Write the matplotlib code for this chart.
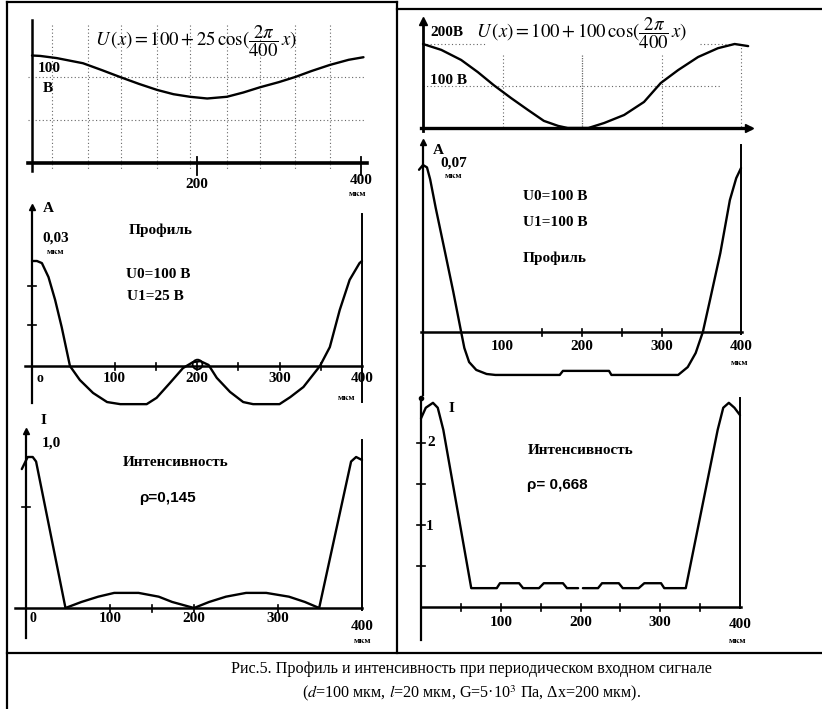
import numpy as np
import matplotlib
matplotlib.use("Agg")
import matplotlib.pyplot as plt
from matplotlib import transforms
from matplotlib.lines import Line2D

plt.rcParams['font.family'] = ['Liberation Serif', 'DejaVu Serif']
plt.rcParams['mathtext.fontset'] = 'stix'

# ---------------- data ----------------
# Left top: U(x) = 100 + 25 cos(...)
LT_x = [0, 10, 30, 62, 85, 107, 130, 152, 172, 192, 213, 237, 257, 277, 300, 320, 340, 362, 385, 403]
LT_U = [125, 124.5, 122, 116, 108, 100, 92, 85, 80, 77, 75, 77, 82, 88, 94, 100, 107, 114, 120, 123]
LT_grid_x = [24, 68, 108, 152, 192, 237, 277, 320, 362]
LT_grid_U = [100, 50]

# Left middle: profile A (мкм), U1 = 25 B
LM_x = [0, 6, 12, 20, 28, 36, 46, 58, 74, 91, 107, 139, 151, 167, 183, 195, 204, 214, 224, 240,
        256, 268, 300, 313, 329, 349, 361, 373, 385, 397, 400]
LM_A = [0.030, 0.030, 0.0294, 0.0254, 0.0189, 0.0111, 0.0, -0.004, -0.0077, -0.0103, -0.0109,
        -0.0109, -0.0091, -0.0049, -0.0006, 0.0011, 0.0014, 0.0003, -0.0034, -0.0074, -0.0103,
        -0.0109, -0.0109, -0.0089, -0.006, 0.0, 0.0054, 0.016, 0.0246, 0.0294, 0.030]

# Left bottom: intensity, rho = 0.145
LB_x = [-5, 2, 8, 12, 47, 66, 86, 105, 134, 158, 174, 200, 218, 238, 262, 286, 313, 332, 349, 387, 393, 400]
LB_I = [0.92, 1.0, 1.0, 0.97, 0.0, 0.04, 0.075, 0.1, 0.1, 0.075, 0.04, 0.0, 0.04, 0.075, 0.1, 0.1,
        0.075, 0.04, 0.0, 0.97, 1.0, 0.98]

# Right top: U(x) = 100 + 100 cos(...)
RT_x = [0, 23, 48, 69, 89, 111, 132, 152, 170, 182, 208, 228, 253, 278, 299, 321, 346, 371, 392, 409]
RT_U = [200, 186, 162, 133, 102, 71, 43, 17, 5, 0, 0, 12, 31, 62, 107, 138, 169, 190, 200, 195]

# Right middle: profile A (мкм), U1 = 100 B
RM_x = [-5, 0, 5, 9, 16, 28, 38, 48, 52, 58, 67, 80, 91, 172, 176, 234, 237, 321, 333, 343, 352,
        361, 374, 386, 394, 400]
RM_A = [0.068, 0.070, 0.069, 0.064, 0.052, 0.033, 0.017, 0.0, -0.0067, -0.0126, -0.0159, -0.0176,
        -0.018, -0.018, -0.0163, -0.0163, -0.018, -0.018, -0.0147, -0.0088, 0.0, 0.0134, 0.0331,
        0.0553, 0.0645, 0.0687]

# Right bottom: intensity, rho = 0.668
RB_x = [0, 6, 15, 21, 28, 63, 95, 99, 123, 128, 148, 154, 178, 183, 197, 200, 203, 222, 227, 248,
        253, 273, 280, 301, 305, 332, 372, 379, 386, 393, 400]
RB_I = [2.30, 2.43, 2.49, 2.43, 2.16, 0.23, 0.23, 0.29, 0.29, 0.23, 0.23, 0.29, 0.29, 0.23, 0.23,
        np.nan, 0.23, 0.23, 0.29, 0.29, 0.23, 0.23, 0.29, 0.29, 0.23, 0.23, 2.16, 2.43, 2.49, 2.43, 2.34]

x_ticklabels = [100, 200, 300, 400]

# ---------------- figure ----------------
W, H = 822, 709
fig = plt.figure(figsize=(W / 100, H / 100), dpi=100)
pxT = transforms.Affine2D().scale(1 / W, -1 / H).translate(0, 1) + fig.transFigure


def panel(box, xmap, ymap):
    l, t, r, b = box
    ax = fig.add_axes([l / W, 1 - b / H, (r - l) / W, (b - t) / H])
    px0, d0, px1, d1 = xmap
    sx = (d1 - d0) / (px1 - px0)
    ax.set_xlim(d0 + (l - px0) * sx, d0 + (r - px0) * sx)
    py0, e0, py1, e1 = ymap
    sy = (e1 - e0) / (py1 - py0)
    ax.set_ylim(e0 + (b - py0) * sy, e0 + (t - py0) * sy)
    ax.axis('off')
    return ax


def ftext(x, y, s, size=11, weight='bold', ha='center', va='center', **kw):
    fig.text(x, y, s, transform=pxT, fontsize=size, fontweight=weight, ha=ha, va=va, **kw)


def xlabel(ax, v, ypx, s=None, size=10.5):
    tr = transforms.blended_transform_factory(ax.transData, pxT)
    ax.text(v, ypx, str(v) if s is None else s, transform=tr, fontsize=size, fontweight='bold',
            ha='center', va='center', clip_on=False)


def vline_px(ax, xv, y0px, y1px, **kw):
    tr = transforms.blended_transform_factory(ax.transData, pxT)
    ax.add_line(Line2D([xv, xv], [y0px, y1px], transform=tr, clip_on=False, **kw))


def hline_px(ax, yv, x0px, x1px, **kw):
    tr = transforms.blended_transform_factory(pxT, ax.transData)
    ax.add_line(Line2D([x0px, x1px], [yv, yv], transform=tr, clip_on=False, **kw))


def yticks(ax, vals, half=4):
    x0, x1 = ax.get_xlim()
    d = (x1 - x0) / ax.get_position().width / W * half
    for v in vals:
        ax.plot([-d, d], [v, v], color='k', lw=1.2, clip_on=False)


def xticks(ax, vals, yv=0, half=3.5):
    y0, y1 = ax.get_ylim()
    d = (y1 - y0) / ax.get_position().height / H * half
    for v in vals:
        ax.plot([v, v], [yv - d, yv + d], color='k', lw=1.2, clip_on=False)


dot = dict(color='#666666', lw=0.8, linestyle=(0, (1, 2.2)))
curve = dict(color='k', lw=1.7, solid_capstyle='round', clip_on=False)

# ---------- Left top ----------
ax = panel((15, 10, 395, 178), (32, 0, 361, 400), (163, 0, 77, 100))
for gx in LT_grid_x:
    vline_px(ax, gx, 25, 170, **dot)
for gu in LT_grid_U:
    hline_px(ax, gu, 28, 365, **dot)
hline_px(ax, 0, 28, 367, color='k', lw=2.6)
vline_px(ax, 0, 20, 171, color='k', lw=1.8)
for v in [200, 400]:
    vline_px(ax, v, 157, 175, color='k', lw=1.3)
ax.plot(LT_x, LT_U, **curve)
ftext(196, 41, r"$U\,(x) = 100 + 25\,\cos(\dfrac{2\pi}{400}\,x)$", size=13.5, weight='normal')
ftext(49, 68, "100", size=11)
ftext(48, 89, "В", size=11)
xlabel(ax, 200, 185, size=11)
xlabel(ax, 400, 180, size=11)
ftext(358, 194, "мкм", size=6.5)

# ---------- Left middle ----------
ax = panel((15, 185, 395, 415), (32, 0, 362, 400), (366, 0, 261, 0.03))
hline_px(ax, 0, 25, 362, color='k', lw=1.8)
vline_px(ax, 0, 208, 403, color='k', lw=1.6)
ax.plot([0], [0.0455], marker='^', color='k', ms=5, clip_on=False)
vline_px(ax, 400, 214, 402, color='k', lw=1.4)
xticks(ax, [100, 150, 200, 250, 300, 350])
yticks(ax, [0.0117, 0.023])
ax.plot(LM_x, LM_A, **curve)
ax.plot([200], [0.0005], marker='o', mfc='none', mec='k', ms=7, mew=1.3)
ftext(48, 209, "A", size=11)
ftext(56, 238, "0,03", size=11)
ftext(56, 252, "мкм", size=6.5)
ftext(161, 230, "Профиль", size=11)
ftext(158, 275, "U0=100 В", size=11)
ftext(155, 297, "U1=25 В", size=11)
ftext(40, 378, "o", size=10)
for v in x_ticklabels:
    xlabel(ax, v, 379, size=11)
ftext(347, 398, "мкм", size=6.5)

# ---------- Left bottom ----------
ax = panel((15, 415, 395, 650), (26, 0, 362, 400), (608, 0, 457, 1.0))
hline_px(ax, 0, 15, 362, color='k', lw=1.8)
vline_px(ax, 0, 432, 638, color='k', lw=1.6)
ax.plot([0], [1.17], marker='^', color='k', ms=5, clip_on=False)
vline_px(ax, 400, 440, 610, color='k', lw=1.4)
xticks(ax, [100, 150, 200, 300])
yticks(ax, [0.67])
ax.plot(LB_x, LB_I, **curve)
ftext(43, 420, "I", size=11)
ftext(51, 443, "1,0", size=11)
ftext(176, 462, "Интенсивность", size=11)
ftext(167, 498, "ρ=0,145", size=11, family=['Liberation Sans', 'DejaVu Sans'])
ftext(33, 619, "0", size=10)
for v in x_ticklabels[:-1]:
    xlabel(ax, v, 619, size=11)
xlabel(ax, 400, 626, size=11)
ftext(363, 641, "мкм", size=6.5)

# ---------- Right top ----------
ax = panel((405, 12, 790, 135), (423, 0, 741, 400), (128, 0, 44, 200))
for gx, top in [(100, 55), (300, 55), (400, 44)]:
    vline_px(ax, gx, top, 128, **dot)
vline_px(ax, 200, 55, 128, color='#666666', lw=0.9, linestyle=(0, (1, 1)))
hline_px(ax, 200, 423, 487, **dot)
hline_px(ax, 200, 700, 741, **dot)
hline_px(ax, 100, 423, 720, **dot)
hline_px(ax, 0, 421, 750, color='k', lw=2.4)
ax.plot([409.5], [0], marker='>', color='k', ms=6, clip_on=False)
vline_px(ax, 0, 20, 131, color='k', lw=2.0)
ax.plot([0], [255], marker='^', color='k', ms=6, clip_on=False)
ax.plot(RT_x, RT_U, **curve)
ftext(430, 33, "200В", size=11, ha='left')
ftext(476, 33, r"$U\,(x) = 100 + 100\,\cos(\dfrac{2\pi}{400}\,x)$", size=13.5, weight='normal', ha='left')
ftext(430, 81, "100 В", size=11, ha='left')

# ---------- Right middle ----------
ax = panel((405, 135, 790, 395), (423, 0, 741, 400), (332, 0, 165, 0.07))
hline_px(ax, 0, 421, 742, color='k', lw=1.8)
vline_px(ax, 0, 147, 395, color='k', lw=1.6)
ax.plot([0], [0.0795], marker='^', color='k', ms=5, clip_on=False)
vline_px(ax, 400, 145, 334, color='k', lw=1.4)
xticks(ax, [150, 200, 250, 300])
ax.plot(RM_x, RM_A, **curve)
ftext(438, 150, "A", size=11)
ftext(454, 163, "0,07", size=11)
ftext(454, 176, "мкм", size=6.5)
ftext(523, 197, "U0=100 В", size=11, ha='left')
ftext(523, 222, "U1=100 В", size=11, ha='left')
ftext(523, 258, "Профиль", size=11, ha='left')
for v in x_ticklabels:
    xlabel(ax, v, 347, size=11)
ftext(740, 363, "мкм", size=6.5)

# ---------- Right bottom ----------
ax = panel((405, 395, 790, 650), (421, 0, 740, 400), (607, 0, 525, 1.0))
hline_px(ax, 0, 421, 741, color='k', lw=1.8)
vline_px(ax, 0, 400, 640, color='k', lw=1.6)
ax.plot([0], [2.55], marker='o', color='k', ms=3, clip_on=False)
vline_px(ax, 400, 398, 608, color='k', lw=1.4)
xticks(ax, [50, 100, 150, 200, 250, 300, 350])
yticks(ax, [0.5, 1.0, 1.5, 2.0])
ax.plot(RB_x, RB_I, **curve)
ftext(451, 409, "I", size=11)
ftext(431, 442, "2", size=11)
ftext(430, 527, "1", size=11)
ftext(581, 450, "Интенсивность", size=11)
ftext(527, 485, "ρ= 0,668", size=11, ha='left', family=['Liberation Sans', 'DejaVu Sans'])
for v in x_ticklabels[:-1]:
    xlabel(ax, v, 622, size=11)
xlabel(ax, 400, 625, size=11)
ftext(738, 641, "мкм", size=6.5)

# ---------- frame lines ----------
frame = dict(color='k', lw=1.6, transform=pxT)
fig.add_artist(Line2D([7, 397], [2, 2], **frame))
fig.add_artist(Line2D([397, 822], [9, 9], **frame))
fig.add_artist(Line2D([7, 7], [2, 709], **frame))
fig.add_artist(Line2D([397, 397], [2, 653], **frame))
fig.add_artist(Line2D([7, 822], [653, 653], **frame))

# ---------- caption ----------
ftext(471, 669, "Рис.5. Профиль и интенсивность при периодическом входном сигнале", size=11.6, weight='normal')
ftext(472, 693, r"($\it{d}$=100 мкм, $\it{l}$=20 мкм, G=5·10$^3$ Па, Δx=200 мкм).", size=11.6, weight='normal')

fig.savefig("out.png", dpi=100)
